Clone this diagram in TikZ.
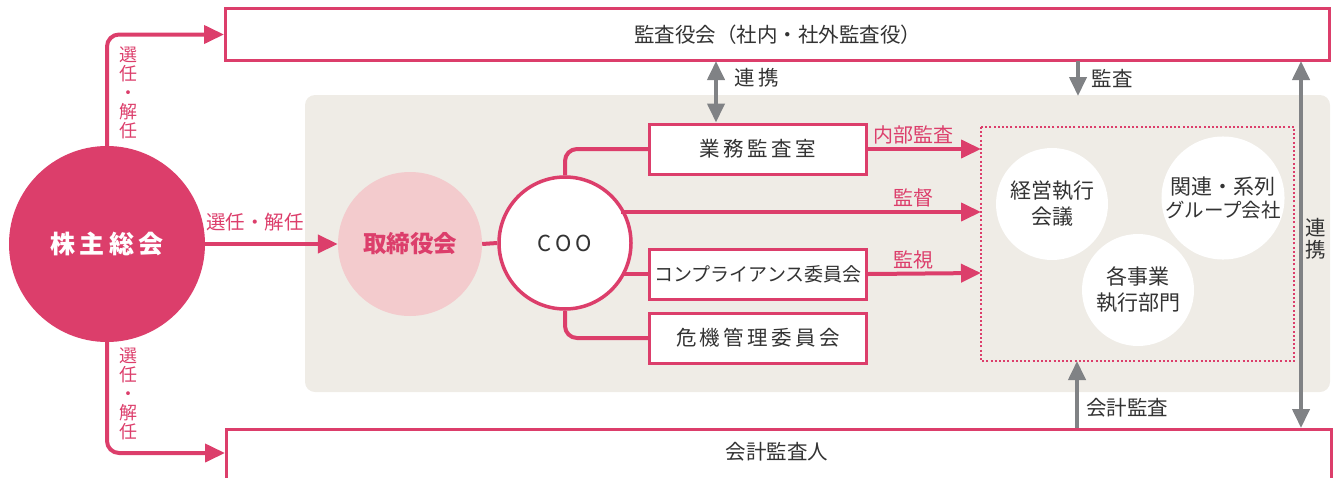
\documentclass[tikz,border=0pt]{standalone}
\usepackage{fontspec}
\setmainfont{Noto Sans CJK JP}
\usetikzlibrary{arrows.meta}
\definecolor{pk}{HTML}{DC3E6B}
\definecolor{pkl}{HTML}{F3CBCD}
\definecolor{gr}{HTML}{808285}
\definecolor{bg}{HTML}{EFECE6}
\definecolor{tx}{HTML}{333333}
\begin{document}
\begin{tikzpicture}[x=1pt,y=-1pt,
  pkline/.style={draw=pk,line width=4pt,rounded corners=12pt},
  pkarrow/.style={pkline,-{Triangle[length=20pt,width=18pt]}},
  grarrow/.style={draw=gr,line width=4pt,-{Triangle[length=19pt,width=17pt]}},
  grdouble/.style={draw=gr,line width=4pt,{Triangle[length=19pt,width=17pt]}-{Triangle[length=19pt,width=17pt]}},
  boxn/.style={draw=pk,line width=3pt,fill=white,inner sep=0pt,text=tx,font=\fontsize{20.5}{22}\selectfont},
  pklabel/.style={text=pk,font=\fontsize{20}{22}\selectfont,inner sep=0pt},
  grlabel/.style={text=tx,font=\fontsize{20.5}{22}\selectfont,inner sep=0pt},
  wcirc/.style={circle,fill=white,minimum size=112pt,inner sep=0pt,align=center,text=tx,font=\fontsize{21}{26}\selectfont},
  vlab/.style={align=center,inner sep=0pt,font=\fontsize{18}{19}\selectfont}
]
\useasboundingbox (0,0) rectangle (1333,477);
% background
\fill[bg,rounded corners=10pt] (305,95) rectangle (1330,392);
% top and bottom boxes
\node[boxn,minimum width=1104pt,minimum height=52pt] (kansayaku) at (777.5,34.5) {監査役会（社内・社外監査役）};
\node[boxn,minimum width=1105pt,minimum height=60pt,anchor=north west] (kaikei) at (225,428) {};
\node[text=tx,font=\fontsize{20.5}{22}\selectfont] (kaikeit) at (777,452) {会計監査人};
\coordinate (kaikeiin) at (225,453);
% shareholders
\node[circle,fill=pk,minimum size=196pt,inner sep=0pt,text=white,font=\bfseries\fontsize{25}{27}\selectfont] (kabu) at (107,244) {株\,主\,総\,会};
% board
\node[circle,fill=pkl,minimum size=144pt,inner sep=0pt,text=pk,font=\bfseries\fontsize{23.5}{25}\selectfont] (tori) at (410,244) {取締役会};
% COO
\node[circle,draw=pk,line width=3.5pt,fill=white,minimum size=132pt,inner sep=0pt,text=tx,font=\fontsize{22}{24}\selectfont] (coo) at (565,243) {C\,O\,O};
% boxes
\node[boxn,minimum width=217pt,minimum height=50pt] (gyomu) at (758,149) {業\,務\,監\,査\,室};
\node[boxn,minimum width=217pt,minimum height=50pt,font=\fontsize{19}{20}\selectfont] (comp) at (758,274) {コンプライアンス委員会};
\node[boxn,minimum width=217pt,minimum height=50pt] (kiki) at (758,338) {危\,機\,管\,理\,委\,員\,会};
% dotted box
\draw[pk,line width=2.5pt,dash pattern=on 2pt off 2.2pt] (981,127) rectangle (1294,361);
\coordinate (dl1) at (981,149);
\coordinate (dl2) at (981,212);
\coordinate (dl3) at (981,273);
\coordinate (dbot) at (1077,361);
% inner circles
\node[wcirc] (keiei) at (1052,204) {経営執行\\会議};
\node[wcirc] (kanren) at (1223,198) {関連・系列\\[-3pt]{\fontsize{19.5}{21}\selectfont グループ会社}};
\node[wcirc] (kaku) at (1138,290) {各事業\\執行部門};
% shareholder arrows
\draw[pkarrow] (kabu.north) |- (kansayaku.west);
\draw[pkarrow] (kabu.south) |- (kaikeiin);
\draw[pkarrow] (kabu.east) -- (tori.west);
\node[pklabel,font=\fontsize{19.5}{21}\selectfont] (l1) at (255,222) {選任・解任};
\node[vlab,text=pk] (l2) at (128,93) {選\\任\\・\\解\\任};
\node[vlab,text=pk] (l3) at (128,394) {選\\任\\・\\解\\任};
% board to COO
\draw[pkline] (tori.east) -- (coo.west);
% COO connectors
\draw[pkline] (coo.north) |- (gyomu.west);
\draw[pkline] (coo.south) |- (kiki.west);
\draw[pkline] (coo.east |- comp.west) ++(-10,0) -- (comp.west);
\draw[pkarrow] (coo.east |- dl2) ++(-12,0) -- (dl2);
% arrows to dotted box
\draw[pkarrow] (gyomu.east) -- (dl1);
\draw[pkarrow] (comp.east) -- (dl3);
\node[pklabel] (t1) at (913,135) {内部監査};
\node[pklabel] (t2) at (913,198) {監督};
\node[pklabel] (t3) at (913,260) {監視};
% gray arrows
\draw[grdouble] (716,61) -- (gyomu.north -| 716,0);
\node[grlabel] (r1) at (757,78) {連\,携};
\coordinate (bgtop) at (1078,96);
\draw[grarrow] (1078,61) -- (bgtop);
\node[grlabel] (r2) at (1112,78) {監査};
\draw[grdouble] (1301,61) -- (1301,428);
\node[vlab,text=tx,font=\fontsize{20.5}{22}\selectfont] (r3) at (1316,239) {連\\携};
\draw[grarrow] (kaikei.north -| dbot) -- (dbot);
\node[grlabel] (r4) at (1127,408) {会計監査};
\end{tikzpicture}
\end{document}
